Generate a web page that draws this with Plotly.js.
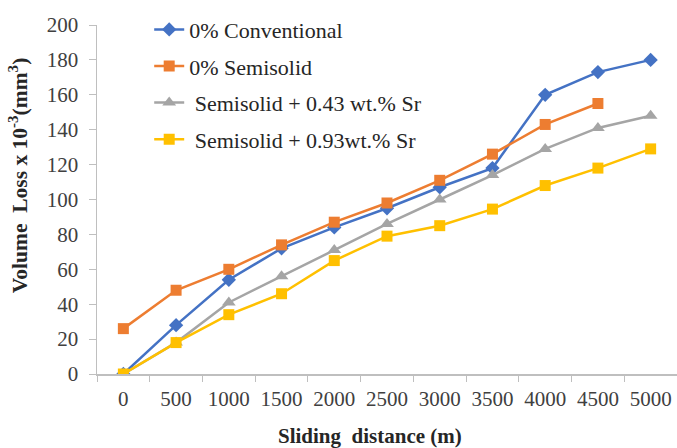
<!DOCTYPE html>
<html><head><meta charset="utf-8">
<script src="https://cdn.plot.ly/plotly-3.0.1.min.js"></script>
<style>html,body{margin:0;padding:0;background:#fff}</style>
</head><body><div id="chart" style="width:677px;height:448px"></div>
<script>
const distances = ["0","500","1000","1500","2000","2500","3000","3500","4000","4500","5000"];
const conventional = [0, 28, 54, 72, 84, 95, 107, 118, 160, 173, 180];
const semisolid = [26, 48, 60, 74, 87, 98, 111, 126, 143, 155, null];
const sr043 = [0, 18, 41, 56, 71, 86, 100, 114, 129, 141, 148];
const sr093 = [0, 18, 34, 46, 65, 79, 85, 94.5, 108, 118, 129];
const seriesNames = ["0% Conventional", "0% Semisolid", " Semisolid + 0.43 wt.% Sr", " Semisolid + 0.93wt.% Sr"];

const FONT = "Liberation Serif";
function tr(y, name, color, symbol, size, grp){
  return {x: distances, y: y, name: name, type: "scatter", mode: "lines+markers",
    line: {color: color, width: 2.5}, marker: {color: color, symbol: symbol, size: size},
    legendgroup: grp};
}
const data = [
  tr(conventional, seriesNames[0], "#4472C4", "diamond", 11, "a"),
  tr(semisolid, seriesNames[1], "#ED7D31", "square", 11, "b"),
  tr(sr043, seriesNames[2], "#A5A5A5", "triangle-up", 12, "c"),
  tr(sr093, seriesNames[3], "#FFC000", "square", 11, "d")
];
const layout = {
  width: 677, height: 448,
  margin: {l: 97, r: 0, t: 25, b: 74},
  paper_bgcolor: "#fff", plot_bgcolor: "#fff",
  font: {family: FONT, color: "#404040", size: 21},
  showlegend: true,
  legend: {x: 0.09, y: 1.047, xanchor: "left", yanchor: "top", bgcolor: "rgba(0,0,0,0)",
    font: {family: FONT, size: 22, color: "#262626"}, traceorder: "grouped", tracegroupgap: 5},
  xaxis: {type: "category", range: [-0.5, 10.5], tickson: "boundaries", ticks: "outside", ticklen: 6,
    tickcolor: "#BFBFBF", showline: true, linecolor: "#BFBFBF", linewidth: 1.5, showgrid: false,
    zeroline: false, tickfont: {family: FONT, size: 21}, ticklabelstandoff: 5, fixedrange: true},
  yaxis: {range: [0, 200], dtick: 20, ticks: "outside", ticklen: 7, tickcolor: "#BFBFBF",
    showline: true, linecolor: "#BFBFBF", linewidth: 1.5, showgrid: false, zeroline: false,
    tickfont: {family: FONT, size: 21}, ticklabelstandoff: 6, fixedrange: true},
  annotations: [
    {text: "<b>Sliding  distance (m)</b>", xref: "paper", yref: "paper", x: 0.47, y: 0,
     xanchor: "center", yanchor: "middle", yshift: -62, showarrow: false,
     font: {family: FONT, size: 21, color: "#262626"}},
    {text: "<b>Volume  Loss x 10<sup>-3</sup>(mm<sup>3</sup>)</b>", xref: "paper", yref: "paper",
     x: -0.136, y: 0.57, xanchor: "center", yanchor: "middle", textangle: -90, showarrow: false,
     font: {family: FONT, size: 21.5, color: "#262626"}}
  ]
};
Plotly.newPlot("chart", data, layout, {displayModeBar: false, staticPlot: true});
</script></body></html>
